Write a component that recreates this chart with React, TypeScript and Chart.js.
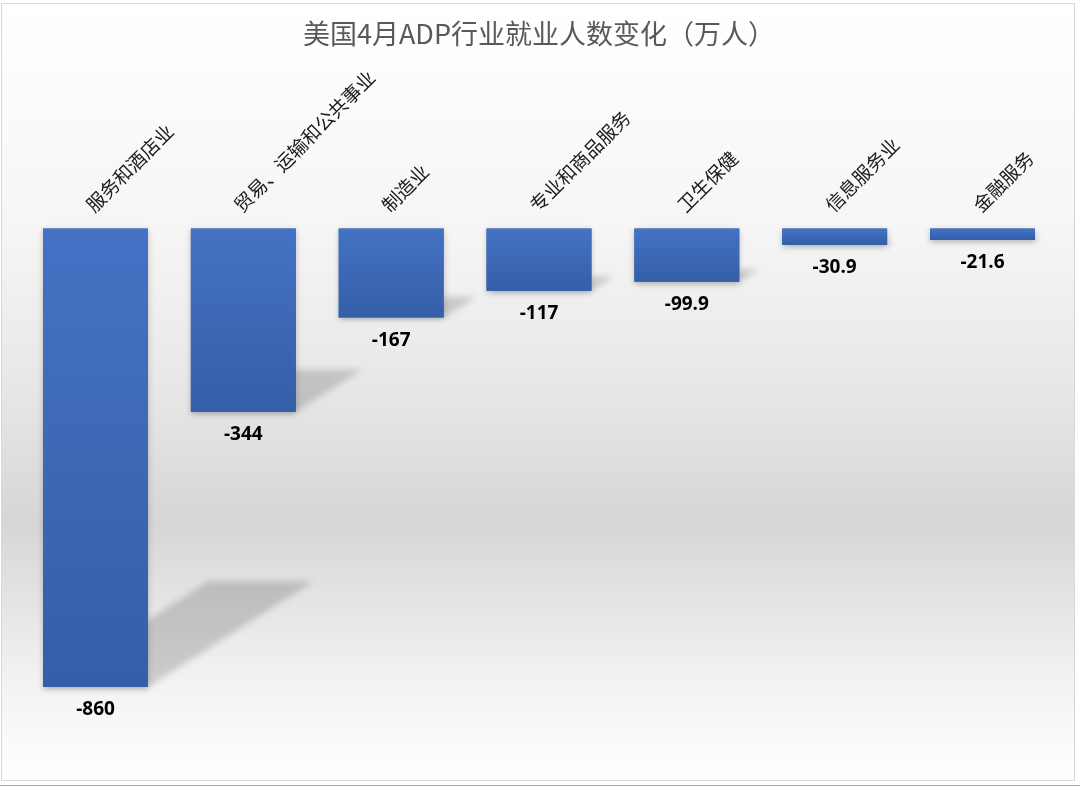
import React, { useEffect, useRef } from "react";
import { Chart, registerables } from "chart.js";

Chart.register(...registerables);

const TITLE = "美国4月ADP行业就业人数变化（万人）";
const categories = [
  "服务和酒店业",
  "贸易、运输和公共事业",
  "制造业",
  "专业和商品服务",
  "卫生保健",
  "信息服务业",
  "金融服务",
];
const values = [-860, -344, -167, -117, -99.9, -30.9, -21.6];
const yMin = -1000;
const yMax = 0;

const backgroundPlugin = {
  id: "bgFrame",
  beforeDraw(chart: any) {
    const ctx = chart.ctx;
    const W = chart.width;
    const H = chart.height;
    ctx.save();
    ctx.fillStyle = "#ffffff";
    ctx.fillRect(0, 0, W, H);
    const top = 3;
    const bottom = 780;
    const g = ctx.createLinearGradient(0, top, 0, bottom);
    g.addColorStop(0, "#ffffff");
    g.addColorStop(0.28, "#f6f6f6");
    g.addColorStop(0.485, "#e8e8e8");
    g.addColorStop(0.67, "#d6d6d6");
    g.addColorStop(0.87, "#f2f2f2");
    g.addColorStop(1, "#ffffff");
    ctx.fillStyle = g;
    ctx.fillRect(1, top, 1073, bottom - top);
    ctx.strokeStyle = "#d9d9d9";
    ctx.lineWidth = 1;
    ctx.strokeRect(1.5, top + 0.5, 1073, bottom - top);
    ctx.strokeStyle = "#a6a6a6";
    ctx.beginPath();
    ctx.moveTo(0, 785.5);
    ctx.lineTo(W, 785.5);
    ctx.stroke();
    ctx.restore();
  },
};

const shadowPlugin = {
  id: "barShadows",
  beforeDatasetsDraw(chart: any) {
    const ctx = chart.ctx;
    const meta = chart.getDatasetMeta(0);
    ctx.save();
    ctx.filter = "blur(3px)";
    ctx.fillStyle = "rgba(0,0,0,0.16)";
    meta.data.forEach((el: any) => {
      const { x, y, base, width } = el.getProps(["x", "y", "base", "width"], true);
      const L = x - width / 2;
      const R = x + width / 2;
      const h = y - base;
      const ty = y - 0.23 * h;
      const dx = 0.36 * h;
      ctx.beginPath();
      ctx.moveTo(L, y);
      ctx.lineTo(R, y);
      ctx.lineTo(R + dx, ty);
      ctx.lineTo(L + dx, ty);
      ctx.closePath();
      ctx.fill();
    });
    ctx.filter = "none";
    ctx.shadowColor = "rgba(0,0,0,0.22)";
    ctx.shadowBlur = 6;
    ctx.shadowOffsetY = 2;
    ctx.fillStyle = "#3f69b7";
    meta.data.forEach((el: any) => {
      const { x, y, base, width } = el.getProps(["x", "y", "base", "width"], true);
      ctx.fillRect(x - width / 2, base, width, y - base);
    });
    ctx.restore();
  },
  afterDatasetsDraw(chart: any) {
    const ctx = chart.ctx;
    const meta = chart.getDatasetMeta(0);
    const data = chart.data.datasets[0].data;
    ctx.save();
    ctx.font = "bold 19px 'Open Sans', 'Liberation Sans', sans-serif";
    ctx.fillStyle = "#000000";
    ctx.textAlign = "center";
    ctx.textBaseline = "middle";
    meta.data.forEach((el: any, i: number) => {
      const { x, y } = el.getProps(["x", "y"], true);
      ctx.fillText(String(data[i]), x, y + 23);
    });
    ctx.restore();
  },
};

export default function App() {
  const canvasRef = useRef<HTMLCanvasElement | null>(null);

  useEffect(() => {
    const canvas = canvasRef.current;
    if (!canvas) return;
    const chart = new Chart(canvas, {
      type: "bar",
      data: {
        labels: categories,
        datasets: [
          {
            data: values,
            backgroundColor: (c: any) => {
              const ch = c.chart;
              if (!ch.chartArea || c.type !== "data") return "#4472C4";
              const ys = ch.scales.y;
              const t = ys.getPixelForValue(0);
              const b = ys.getPixelForValue(c.raw);
              if (!isFinite(t) || !isFinite(b) || Math.abs(b - t) < 1) return "#4472C4";
              const g = ch.ctx.createLinearGradient(0, t, 0, b);
              g.addColorStop(0, "#4472C4");
              g.addColorStop(1, "#355EA8");
              return g;
            },
            borderWidth: 0,
            categoryPercentage: 1,
            barPercentage: 0.71,
          },
        ],
      },
      options: {
        responsive: false,
        animation: false,
        layout: { padding: { left: 21.6, right: 23.6, top: 0, bottom: 25.4 } },
        plugins: {
          legend: { display: false },
          tooltip: { enabled: false },
          title: {
            display: true,
            text: TITLE,
            color: "#595959",
            font: { size: 27, family: "'Noto Sans CJK SC', sans-serif", weight: "normal" },
            padding: { top: 18, bottom: 10 },
          },
        },
        scales: {
          x: {
            position: "top",
            offset: true,
            grid: { display: false, drawTicks: false },
            border: { display: false },
            ticks: {
              autoSkip: false,
              maxRotation: 45,
              minRotation: 45,
              padding: 12,
              labelOffset: 10,
              color: "#1a1a1a",
              font: { size: 19, family: "'Noto Sans CJK SC', sans-serif" },
            },
            afterFit: (scale: any) => {
              scale.height = 168;
            },
          },
          y: {
            display: false,
            min: yMin,
            max: yMax,
            grid: { display: false },
          },
        },
      },
      plugins: [backgroundPlugin, shadowPlugin],
    });
    return () => chart.destroy();
  }, []);

  return (
    <div style={{ position: "absolute", left: 0, top: 0, width: 1080, height: 787 }}>
      <canvas ref={canvasRef} width={1080} height={787} style={{ display: "block" }} />
    </div>
  );
}
